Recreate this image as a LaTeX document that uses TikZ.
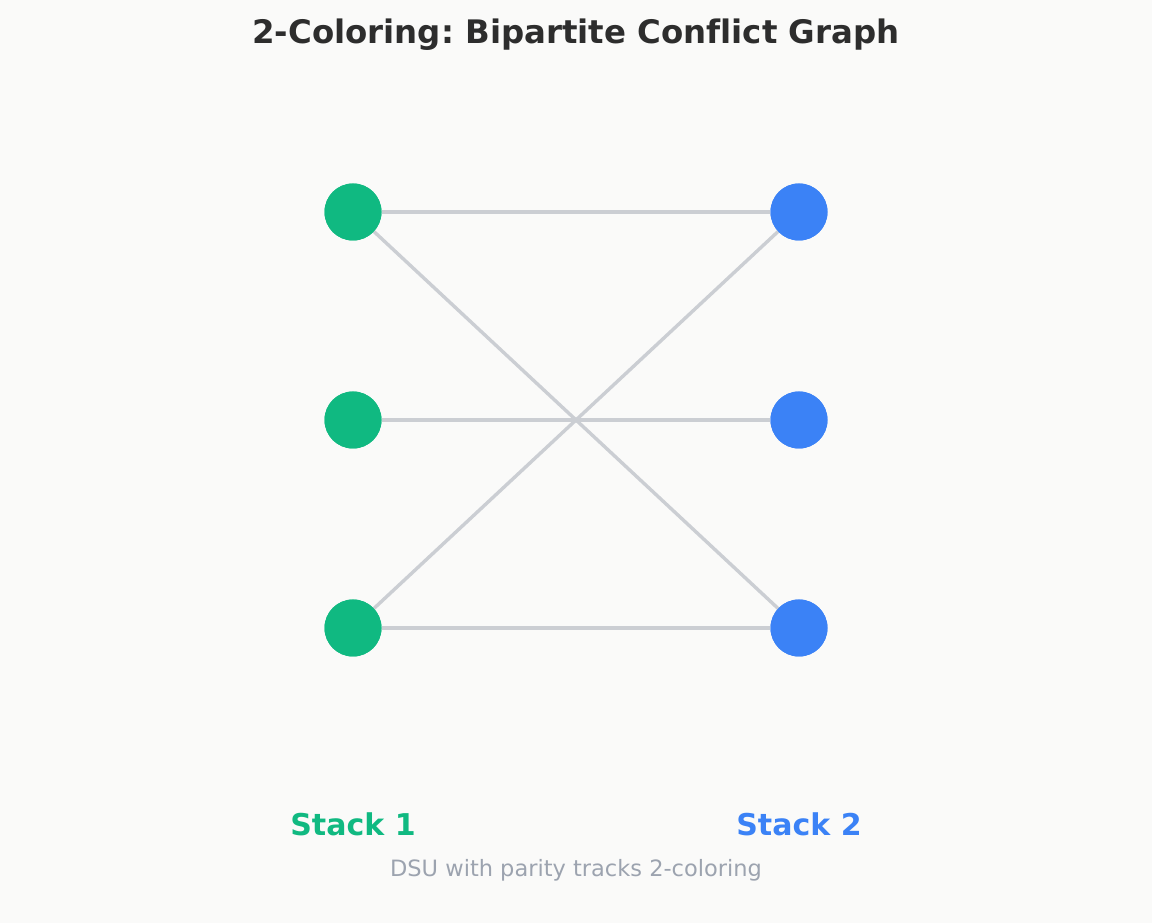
\documentclass[tikz,border=0pt]{standalone}
\usepackage{fontspec}
\setmainfont[Ligatures=NoCommon]{DejaVu Sans}
\frenchspacing
\definecolor{bgc}{HTML}{FAFAF9}
\definecolor{titlec}{HTML}{2D2D2D}
\definecolor{greenc}{HTML}{10B981}
\definecolor{bluec}{HTML}{3B82F6}
\definecolor{edgec}{HTML}{CBCED3}
\definecolor{subc}{HTML}{9CA3AF}
\tikzset{
  vert/.style={circle,minimum size=57pt,inner sep=0pt},
  lvert/.style={vert,fill=greenc},
  rvert/.style={vert,fill=bluec},
  conn/.style={draw=edgec,line width=3.4pt},
}
\begin{document}
\begin{tikzpicture}[x=1pt,y=1pt]
\fill[bgc] (0,0) rectangle (1152,923);
\useasboundingbox (0,0) rectangle (1152,923);
\node[anchor=base,text=titlec,font=\bfseries\fontsize{32.4}{38}\selectfont] (title) at (576,879) {2-Coloring: Bipartite Conflict Graph};
\node[lvert] (l1) at (353,711) {};
\node[lvert] (l2) at (353,503) {};
\node[lvert] (l3) at (353,295) {};
\node[rvert] (r1) at (799,711) {};
\node[rvert] (r2) at (799,503) {};
\node[rvert] (r3) at (799,295) {};
\draw[conn] (l1) -- (r1);
\draw[conn] (l1) -- (r3);
\draw[conn] (l2) -- (r2);
\draw[conn] (l3) -- (r1);
\draw[conn] (l3) -- (r3);
\node[lvert] at (l1) {};
\node[lvert] at (l2) {};
\node[lvert] at (l3) {};
\node[rvert] at (r1) {};
\node[rvert] at (r2) {};
\node[rvert] at (r3) {};
\node[anchor=base,text=greenc,font=\bfseries\fontsize{30}{36}\selectfont] (s1) at (353,87) {Stack 1};
\node[anchor=base,text=bluec,font=\bfseries\fontsize{30}{36}\selectfont] (s2) at (799,87) {Stack 2};
\node[anchor=base,text=subc,font=\fontsize{22.5}{27}\selectfont] (sub) at (576,46) {DSU with parity tracks 2-coloring};
\end{tikzpicture}
\end{document}
